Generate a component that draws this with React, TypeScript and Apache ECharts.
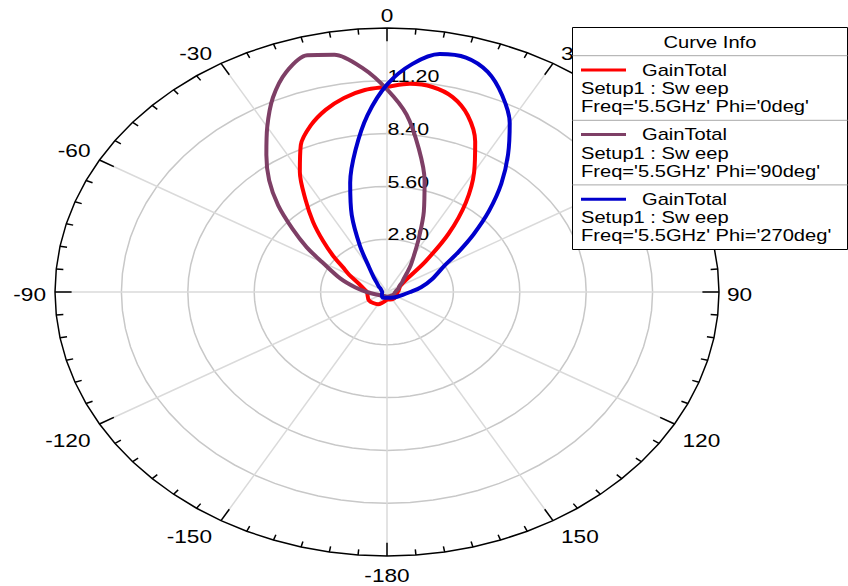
import React, { useEffect, useRef } from "react";
import * as echarts from "echarts";

// ---- data (theta in degrees, gain in linear units) ----
const angles = [-180, -150, -120, -90, -80, -70, -60, -55, -50, -45, -40, -35, -30, -25, -20, -15, -10, -5, 0, 5, 10, 15, 20, 25, 30, 35, 40, 45, 50, 55, 60, 70, 80, 90, 120, 150, 180];
const gainPhi0 = [0.4, 0.75, 0.88, 0.85, 1.0, 1.25, 1.85, 2.25, 2.95, 3.8, 4.85, 6.0, 7.35, 8.6, 9.4, 10.0, 10.45, 10.75, 10.88, 11.08, 11.04, 10.7, 9.96, 8.8, 7.35, 5.8, 4.05, 2.3, 1.15, 0.8, 0.65, 0.55, 0.5, 0.45, 0.45, 0.45, 0.4];
const gainPhi90 = [0.25, 0.25, 0.35, 0.85, 1.35, 2.1, 3.15, 4.13, 5.2, 6.49, 7.73, 8.87, 10.1, 11.38, 12.42, 13.0, 12.78, 11.93, 10.75, 9.45, 7.72, 6.12, 4.54, 3.2, 2.3, 1.75, 1.3, 1.0, 0.85, 0.7, 0.6, 0.5, 0.4, 0.35, 0.3, 0.25, 0.25];
const gainPhi270 = [0.3, 0.35, 0.25, 0.2, 0.2, 0.25, 0.3, 0.35, 0.45, 0.55, 0.7, 1.0, 1.5, 2.7, 4.35, 6.0, 7.65, 9.42, 11.0, 12.13, 12.81, 12.87, 12.42, 11.5, 10.35, 8.9, 7.5, 6.09, 4.77, 3.65, 2.8, 2.03, 1.46, 0.98, 0.5, 0.35, 0.3];

const curveNames = ["GainTotal", "GainTotal", "GainTotal"];
const setupLabels = ["Setup1 : Sw eep", "Setup1 : Sw eep", "Setup1 : Sw eep"];
const freqLabels = ["Freq='5.5GHz' Phi='0deg'", "Freq='5.5GHz' Phi='90deg'", "Freq='5.5GHz' Phi='270deg'"];
const legendTitle = "Curve Info";

const ringValues = [2.8, 5.6, 8.4, 11.2];
const radialMax = 14;
const spokeAngles = [0, 30, 60, 90, 120, 150, 180, 210, 240, 270, 300, 330];
const angleLabels = [0, 30, 60, 90, 120, 150, -180, -150, -120, -90, -60, -30];

// ---- styles ----
const curveColors = ["#FF0000", "#7E3F66", "#0000CC"];
const FONT = "Liberation Sans";
const STRETCH = 332 / 264;

const rad = (d: number) => (d * Math.PI) / 180;
const toXY = (deg: number, r: number) => [r * Math.sin(rad(deg)), r * Math.cos(rad(deg))];

const tickAngles: number[] = [];
for (let a = 0; a < 360; a += 5) tickAngles.push(a);

const curves = [gainPhi0, gainPhi90, gainPhi270];

function buildOption() {
  const lineSeries = curves.map((g, i) => ({
    type: "line",
    name: curveNames[i] + " " + freqLabels[i],
    data: angles.map((a, k) => toXY(a, g[k])),
    showSymbol: false,
    smooth: 0.3,
    clip: false,
    z: 3,
    lineStyle: { color: curveColors[i], width: 4, join: "round", cap: "round" },
    itemStyle: { color: curveColors[i] },
  }));

  const rings = {
    type: "custom",
    coordinateSystem: "cartesian2d",
    silent: true,
    clip: false,
    z: 1,
    data: ringValues.map((v) => [v, 0]),
    renderItem: (_p: any, api: any) => {
      const r = api.value(0);
      const pts: number[][] = [];
      for (let a = 0; a <= 360; a += 5) pts.push(api.coord(toXY(a, r)));
      return { type: "polyline", shape: { points: pts }, style: { stroke: "#C8C8C8", lineWidth: 1.5, fill: null } };
    },
  };

  const spokes = {
    type: "custom",
    coordinateSystem: "cartesian2d",
    silent: true,
    clip: false,
    z: 1,
    data: spokeAngles.map((a) => [a, 0]),
    renderItem: (_p: any, api: any) => {
      const a = api.value(0);
      const c = api.coord([0, 0]);
      const e = api.coord(toXY(a, radialMax));
      return { type: "line", shape: { x1: c[0], y1: c[1], x2: e[0], y2: e[1] }, style: { stroke: "#DADADA", lineWidth: 1.5 } };
    },
  };

  const outer = {
    type: "custom",
    coordinateSystem: "cartesian2d",
    silent: true,
    clip: false,
    z: 2,
    data: [[radialMax, 0]],
    renderItem: (_p: any, api: any) => {
      const r = api.value(0);
      const pts: number[][] = [];
      for (let a = 0; a <= 360; a += 5) pts.push(api.coord(toXY(a, r)));
      return { type: "polyline", shape: { points: pts }, style: { stroke: "#000", lineWidth: 1.5, fill: null } };
    },
  };

  const ticks = {
    type: "custom",
    coordinateSystem: "cartesian2d",
    silent: true,
    clip: false,
    z: 2,
    data: tickAngles.map((a) => [a, 0]),
    renderItem: (_p: any, api: any) => {
      const a = api.value(0);
      const len = a % 30 === 0 ? 0.7 : 0.3;
      const s = api.coord(toXY(a, radialMax));
      const e = api.coord(toXY(a, radialMax - len));
      return { type: "line", shape: { x1: s[0], y1: s[1], x2: e[0], y2: e[1] }, style: { stroke: "#000", lineWidth: 1.5 } };
    },
  };

  const radialLabels = {
    type: "custom",
    coordinateSystem: "cartesian2d",
    silent: true,
    clip: false,
    z: 2,
    data: ringValues.map((v) => [v, 0]),
    renderItem: (_p: any, api: any) => {
      const r = api.value(0);
      const c = api.coord([0, r]);
      return {
        type: "text",
        x: c[0] + 0.5,
        y: c[1] - 4.5,
        scaleX: STRETCH,
        style: { text: r.toFixed(2), fill: "#000", fontSize: 17, fontFamily: FONT, align: "left", verticalAlign: "middle" },
      };
    },
  };

  const angleLabelSeries = {
    type: "custom",
    coordinateSystem: "cartesian2d",
    silent: true,
    clip: false,
    z: 2,
    data: angleLabels.map((a) => [a, 0]),
    renderItem: (_p: any, api: any) => {
      const a = api.value(0);
      const p = api.coord(toXY(a, radialMax));
      const s = Math.sin(rad(a));
      const co = Math.cos(rad(a));
      let x = p[0];
      let y = p[1];
      let align = "center";
      let va = "middle";
      if (Math.abs(s) < 0.01) {
        if (co > 0) { va = "bottom"; y = p[1] - 4; } else { va = "top"; y = p[1] + 10; }
      } else {
        align = s > 0 ? "left" : "right";
        x = p[0] + (s > 0 ? 8 : -9);
        if (co > 0.01) { va = "bottom"; y = p[1] - 1; }
        else if (co < -0.01) { va = "top"; y = p[1] + 7; }
        else { va = "middle"; y = p[1] + 2; }
      }
      return {
        type: "text",
        x,
        y,
        scaleX: STRETCH,
        style: { text: String(a), fill: "#000", fontSize: 18, fontFamily: FONT, align, verticalAlign: va },
      };
    },
  };

  // legend box (HFSS "Curve Info")
  const lx = 572.5, ly = 27.5, lw = 275, headH = 28.2, blockH = 64.6;
  const lh = headH + blockH * curves.length;
  const graphic: any[] = [
    { type: "rect", z: 100, shape: { x: lx, y: ly, width: lw, height: lh }, style: { fill: "#fff", stroke: "#000", lineWidth: 1 } },
    { type: "text", z: 101, x: lx + lw / 2, y: ly + headH / 2 + 1, scaleX: STRETCH, style: { text: legendTitle, fill: "#000", fontSize: 16, fontFamily: FONT, align: "center", verticalAlign: "middle" } },
  ];
  curves.forEach((_g, i) => {
    const top = ly + headH + i * blockH;
    graphic.push({ type: "line", z: 101, shape: { x1: lx, y1: top, x2: lx + lw, y2: top }, style: { stroke: "#A8A8A8", lineWidth: 1 } });
    graphic.push({ type: "line", z: 101, shape: { x1: 581, y1: top + 14.3, x2: 626, y2: top + 14.3 }, style: { stroke: curveColors[i], lineWidth: 3 } });
    graphic.push({ type: "text", z: 101, x: 642, y: top + 14.6, scaleX: STRETCH, style: { text: curveNames[i], fill: "#000", fontSize: 16, fontFamily: FONT, align: "left", verticalAlign: "middle" } });
    graphic.push({ type: "text", z: 101, x: 581, y: top + 33, scaleX: STRETCH, style: { text: setupLabels[i], fill: "#000", fontSize: 16, fontFamily: FONT, align: "left", verticalAlign: "middle" } });
    graphic.push({ type: "text", z: 101, x: 581, y: top + 51.3, scaleX: STRETCH, style: { text: freqLabels[i], fill: "#000", fontSize: 16, fontFamily: FONT, align: "left", verticalAlign: "middle" } });
  });

  return {
    animation: false,
    backgroundColor: "#fff",
    grid: { left: 55, top: 28, width: 664, height: 528 },
    xAxis: { type: "value", min: -radialMax, max: radialMax, show: false },
    yAxis: { type: "value", min: -radialMax, max: radialMax, show: false },
    series: [rings, spokes, outer, ticks, radialLabels, angleLabelSeries, ...lineSeries],
    graphic,
  };
}

export default function App() {
  const ref = useRef<HTMLDivElement>(null);
  useEffect(() => {
    if (!ref.current) return;
    const chart = echarts.init(ref.current, undefined, { renderer: "svg" });
    chart.setOption(buildOption() as any);
    return () => chart.dispose();
  }, []);
  return <div ref={ref} style={{ position: "absolute", left: 0, top: 0, width: 848, height: 586, background: "#fff" }} />;
}
